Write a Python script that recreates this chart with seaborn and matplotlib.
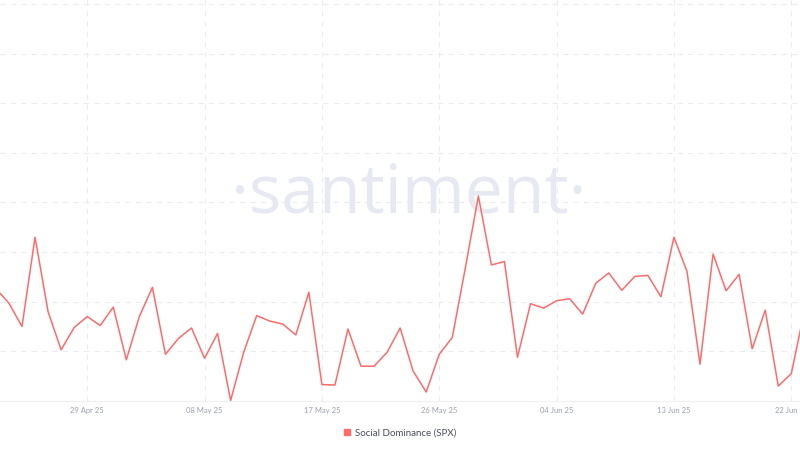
import matplotlib
matplotlib.use("Agg")
import matplotlib.pyplot as plt
import matplotlib.dates as mdates
import matplotlib.patches as mpatches
import seaborn as sns
import pandas as pd
import numpy as np

# ---- data ----
start_date = "2025-04-22"
social_dominance = [
    2.26, 1.97, 1.50, 3.30, 1.80, 1.03, 1.48, 1.70, 1.52, 1.89,
    0.83, 1.70, 2.29, 0.94, 1.26, 1.47, 0.86, 1.36, 0.01, 0.98,
    1.72, 1.61, 1.55, 1.33, 2.19, 0.33, 0.32, 1.45, 0.70, 0.70,
    0.98, 1.47, 0.60, 0.18, 0.94, 1.28, 2.68, 4.13, 2.74, 2.81,
    0.88, 1.96, 1.87, 2.02, 2.06, 1.75, 2.37, 2.58, 2.23, 2.51,
    2.53, 2.10, 3.30, 2.61, 0.74, 2.96, 2.22, 2.55, 1.05, 1.83,
    0.30, 0.55, 1.81,
]
tick_dates = ["2025-04-29", "2025-05-08", "2025-05-17", "2025-05-26",
              "2025-06-04", "2025-06-13", "2025-06-22"]
tick_labels = ["29 Apr 25", "08 May 25", "17 May 25", "26 May 25",
               "04 Jun 25", "13 Jun 25", "22 Jun 25"]
series_name = "Social Dominance (SPX)"

dates = pd.date_range(start_date, periods=len(social_dominance), freq="D")
df = pd.DataFrame({"date": dates, "value": social_dominance})

sns.set_theme(style="white")
plt.rcParams["font.family"] = ["Lato", "DejaVu Sans"]

line_color = "#ff6b6b"
grid_color = "#ebecf1"

fig = plt.figure(figsize=(8, 4.5), dpi=100)
ax = fig.add_axes([0.0, 0.109, 1.0, 0.891])

# watermark
ax.text(0.511, 0.515, "·santiment·", transform=ax.transAxes, ha="center", va="center",
        fontsize=49, color="#e6e9f2", family=["Open Sans", "DejaVu Sans"], zorder=0)

sns.lineplot(data=df, x="date", y="value", ax=ax, color=line_color, linewidth=1.1, zorder=3)

ax.set_xlim(pd.Timestamp("2025-04-22 07:30"), pd.Timestamp("2025-06-22 16:00"))
ax.set_ylim(0, 8.08)

tick_pos = pd.to_datetime(tick_dates)
ax.set_xticks(tick_pos)
ax.set_xticklabels(tick_labels)
ax.set_yticks(np.arange(1, 9, 1))
ax.set_yticklabels([])
ax.tick_params(axis="x", length=0, pad=4, labelsize=5.5, labelcolor="#9aa0b2")
ax.tick_params(axis="y", length=0)

ax.grid(True, color=grid_color, linestyle=(0, (5, 5)), linewidth=0.75, zorder=0)
ax.set_axisbelow(True)
for s in ["top", "left", "right"]:
    ax.spines[s].set_visible(False)
ax.spines["bottom"].set_color("#eef0f3")
ax.spines["bottom"].set_linewidth(0.8)
ax.set_xlabel("")
ax.set_ylabel("")

handle = mpatches.Patch(color=line_color, label=series_name)
fig.legend(handles=[handle], loc="center", bbox_to_anchor=(0.5, 0.038), frameon=False,
           fontsize=7, handlelength=0.6, handleheight=0.6, handletextpad=0.5,
           labelcolor="#4a4f5e")

fig.savefig("out.png", dpi=100)
